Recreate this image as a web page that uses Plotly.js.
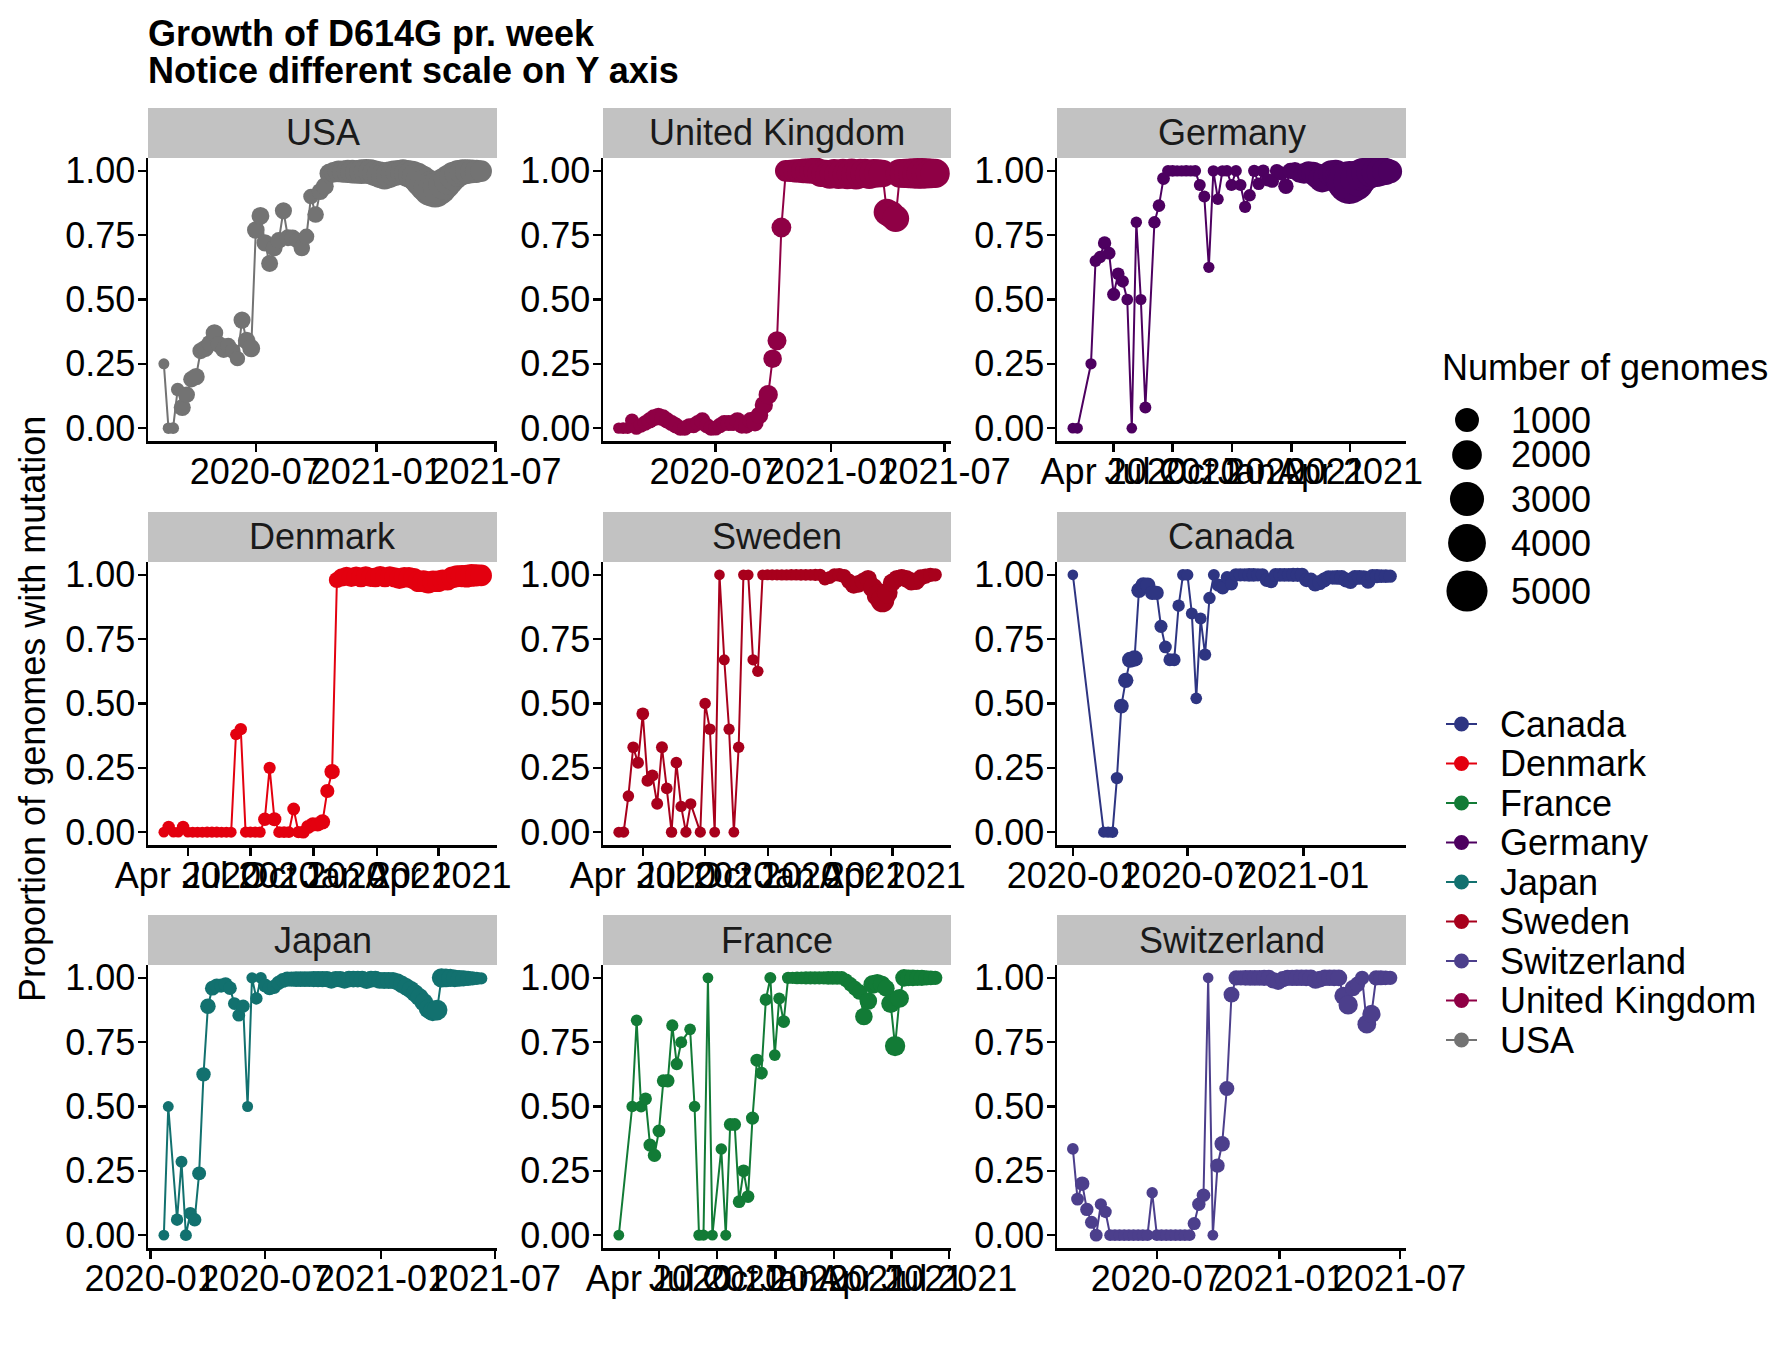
<!DOCTYPE html>
<html>
<head>
<meta charset="utf-8">
<script src="https://cdn.plot.ly/plotly-3.0.1.min.js"></script>
<style>body{margin:0;background:#fff}</style>
</head>
<body>
<div id="chart" style="width:1785px;height:1360px"></div>
<script>
// weekly share of genomes carrying D614G, one set of arrays per country
// weeks are counted from 2020-01-01
const usaWeeks = [6,7,8,9,10,11,12,13,14,15,16,17,18,19,20,21,22,23,24,25,26,27,28,29,30,31,32,33,34,35,36,37,38,39,40,41,42,43,44,45,46,47,48,49,50,51,52,53,54,55,56,57,58,59,60,61,62,63,64,65,66,67,68,69,70,71,72,73,74,75];
const usaProp = [0.25,0,0,0.15,0.08,0.13,0.19,0.20,0.30,0.31,
  0.33,0.37,0.325,0.305,0.32,0.30,0.27,0.42,0.34,0.31,
  0.77,0.825,0.72,0.64,0.70,0.73,0.845,0.74,0.74,0.73,
  0.70,0.745,0.90,0.83,0.92,0.94,0.99,0.995,0.998,0.997,
  0.998,0.997,0.996,0.997,0.998,0.996,0.99,0.985,0.98,0.985,
  0.99,0.993,0.995,0.99,0.985,0.975,0.96,0.945,0.93,0.925,
  0.935,0.95,0.965,0.98,0.99,0.995,0.997,0.998,0.998,0.999];
const usaGenomes = [5,12,20,60,260,200,220,280,220,260,
  230,300,260,230,180,160,150,260,300,320,
  300,320,260,250,230,220,260,240,220,180,
  220,170,160,220,260,320,500,600,700,800,
  900,1000,1000,1100,1100,1200,1300,1400,1500,1400,
  1300,1200,1300,1500,1700,2000,2400,2800,3100,3200,
  2900,2500,2100,1800,1500,1300,1100,1000,900,700];

const ukWeeks = [4,5,6,7,8,9,10,11,12,13,14,15,16,17,18,19,20,21,22,23,24,25,26,27,28,29,30,31,32,33,34,35,36,37,38,39,40,41,42,43,44,45,46,47,48,49,50,51,52,53,54,55,56,57,58,59,60,61,62,63,64,65,66,67,68,69,70,71,72,73,74,75,76];
const ukProp = [0,0,0,0.03,0,0.01,0.02,0.03,0.04,0.045,
  0.04,0.03,0.02,0.01,0,0,0.01,0.01,0.02,0.03,
  0.01,0,0,0.01,0.02,0.02,0.02,0.03,0.01,0.01,
  0.03,0.02,0.05,0.09,0.13,0.27,0.34,0.78,1,1,
  1,1,1,1,1,1,0.99,0.99,0.985,0.99,
  0.985,0.99,0.985,0.99,0.985,0.99,0.99,0.985,0.99,0.99,
  0.99,0.84,0.83,0.815,0.99,0.99,0.99,0.99,0.99,0.99,
  0.99,0.99,0.99];
const ukGenomes = [10,15,20,80,60,100,150,200,250,300,
  250,200,200,180,150,150,120,150,180,200,
  150,150,120,150,180,200,200,220,200,200,
  230,250,300,350,450,380,420,500,700,800,
  900,1000,1100,1200,1300,1400,1500,1600,1700,1800,
  1800,1900,1900,2000,2000,1900,1900,1800,1800,1700,
  1600,1400,1500,1500,1800,1900,2000,2100,2200,2200,
  2100,2000,1900];

const deWeeks = [4,5,8,9,10,11,12,13,14,15,16,17,18,19,20,22,23,24,25,26,27,28,29,30,31,32,33,34,35,36,37,38,39,40,41,42,43,44,45,46,47,48,49,50,51,52,53,54,55,56,57,58,59,60,61,62,63,64,65,66,67,68,69,70,71,72,73,74];
const deProp = [0,0,
  0.25,0.65,0.665,0.72,0.68,0.52,0.60,0.57,0.50,0,0.80,0.50,0.08,
  0.80,0.865,0.97,1,1,1,1,1,1,1,
  0.945,0.90,0.625,1,0.89,1,1,0.945,1,0.945,
  0.86,0.905,1,0.95,1,0.965,0.96,1,0.99,0.94,
  1,1,0.99,0.99,0.995,0.99,0.98,0.97,0.975,0.99,
  0.99,0.975,0.96,0.955,0.96,0.97,0.985,0.99,0.995,0.995,
  0.998,0.998,0.998];
const deGenomes = [3,5,
  8,20,30,60,40,50,40,30,15,2,10,8,20,
  30,35,40,20,15,10,10,12,10,15,
  20,20,8,10,15,10,12,20,15,20,
  25,30,25,35,40,60,60,80,100,150,
  200,300,400,600,700,900,1200,1600,1500,1400,
  1600,2200,3800,5600,4800,3500,2800,2500,2200,2000,
  1800,1500,1000];

const dkWeeks = [8,9,10,11,12,13,14,15,16,17,18,19,20,21,22,23,24,25,26,27,28,29,30,31,32,33,34,35,36,37,38,39,40,41,42,43,44,45,46,47,48,49,50,51,52,53,54,55,56,57,58,59,60,61,62,63,64,65,66,67,68,69,70,71,72,73,74];
const dkProp = [0,0.02,0,0,0.02,0,0,0,0,0,
  0,0,0,0,0,0.38,0.40,0,0,0,
  0,0.05,0.25,0.05,0,0,0,0.09,0,0,
  0.02,0.03,0.03,0.04,0.16,0.235,0.98,0.99,0.995,0.99,
  0.995,0.99,0.995,0.99,0.99,0.995,0.99,0.995,0.99,0.985,
  0.99,0.99,0.985,0.975,0.975,0.97,0.975,0.975,0.98,0.98,
  0.99,0.995,0.995,0.995,0.998,0.998,0.998];
const dkGenomes = [3,30,3,4,30,4,5,5,5,6,
  6,6,5,5,5,15,30,8,8,8,
  10,60,25,80,20,20,20,40,30,40,
  80,100,100,150,90,150,200,350,400,450,
  450,500,500,450,500,550,500,500,550,600,
  600,600,650,700,750,750,700,700,650,650,
  700,750,800,850,850,800,700];

const seWeeks = [8,9,10,11,12,13,14,15,16,17,18,19,20,21,22,23,25,26,27,28,29,30,31,32,33,34,35,36,37,38,39,40,41,42,43,44,45,46,47,48,49,50,51,52,53,54,55,56,57,58,59,60,61,62,63,64,65,66,67,68,69,70,71,72,73,74];
const seProp = [0,0,0.14,0.33,0.27,0.46,0.20,0.22,0.11,0.33,0.17,0,0.27,0.10,0,0.11,
  0,0.50,0.40,0,1,0.67,0.40,0,0.33,1,
  1,0.67,0.625,1,1,1,1,1,1,1,
  1,1,1,1,1,1,0.985,0.99,1,1,
  0.995,0.975,0.96,0.965,0.975,0.985,0.95,0.92,0.90,0.93,
  0.97,0.985,0.99,0.985,0.975,0.975,0.99,0.995,1,1];
const seGenomes = [5,8,12,15,20,40,25,25,20,20,15,10,15,10,8,10,
  8,12,15,3,2,5,8,3,10,3,
  3,8,10,4,5,6,8,10,10,12,
  12,15,15,20,25,30,60,50,60,80,
  100,150,250,300,250,300,500,700,950,600,
  350,300,250,300,350,300,200,150,100,60];

const caWeeks = [0,7,8,9,10,11,12,13,14,15,16,17,18,19,20,21,22,23,24,25,26,27,28,29,30,31,32,33,34,35,36,37,38,39,40,41,42,43,44,45,46,47,48,49,50,51,52,53,54,55,56,57,58,59,60,61,62,63,64,65,66,67,68,69,70,71,72];
const caProp = [1,
  0,0,0,0.21,0.49,0.59,0.67,0.675,0.94,0.96,
  0.96,0.93,0.93,0.80,0.72,0.67,0.67,0.88,1,1,
  0.85,0.52,0.83,0.69,0.91,1,0.96,0.95,0.99,0.965,
  1,1,1,1,1,1,1,0.98,0.975,1,
  1,1,1,1,1,1,0.98,0.98,0.965,0.97,
  0.98,0.99,0.99,0.99,0.99,0.98,0.975,0.99,0.99,0.99,
  0.975,0.995,0.995,0.995,0.995,0.995];
const caGenomes = [2,
  8,10,12,30,120,150,200,220,150,180,
  150,100,100,50,40,40,40,30,20,20,
  20,15,20,30,30,20,50,60,40,50,
  60,60,60,70,70,60,60,80,80,70,
  70,80,80,90,90,100,100,120,150,130,
  120,110,110,120,130,130,140,130,120,110,
  130,100,90,80,70,60];

const jpWeeks = [3,4,6,7,8,9,10,11,12,13,14,15,16,17,18,19,20,21,22,23,24,25,26,27,28,29,30,31,32,33,34,35,36,37,38,39,40,41,42,43,44,45,46,47,48,49,50,51,52,53,54,55,56,57,58,59,60,61,62,63,64,65,66,67,68,69,70,71,72,73,74,75];
const jpProp = [0,0.50,
  0.06,0.285,0,0.085,0.06,0.24,0.625,0.89,0.96,0.97,
  0.97,0.975,0.96,0.90,0.855,0.89,0.50,1,0.92,1,
  0.97,0.96,0.965,0.98,0.99,0.995,0.995,0.995,0.995,0.995,
  0.995,0.995,0.995,0.995,0.995,0.99,0.995,0.995,0.99,0.995,
  0.995,0.995,0.995,0.99,0.995,0.995,0.99,0.99,0.99,0.99,
  0.985,0.975,0.965,0.955,0.94,0.925,0.905,0.88,0.87,0.875,
  1,1,1,0.998,0.998,0.998,0.998,0.998,0.998,0.998];
const jpGenomes = [3,4,
  30,20,20,40,60,80,100,160,120,100,
  90,80,70,40,40,50,5,8,30,20,
  80,100,90,100,120,150,150,160,170,180,
  180,190,200,200,200,210,210,220,220,230,
  230,240,240,250,250,240,240,250,250,260,
  260,280,300,300,320,350,380,420,500,600,
  450,400,350,300,250,200,150,100,60,30];

const frWeeks = [4,7,8,9,10,11,12,13,14,15,16,17,18,20,21,22,23,24,25,27,28,29,30,31,32,33,34,35,36,37,38,39,40,41,42,43,44,45,46,47,48,49,50,51,52,53,54,55,56,57,58,59,60,61,62,63,64,65,66,67,68,69,70,71,72,73,74,75];
const frProp = [0,
  0.50,0.835,0.50,0.53,0.35,0.31,0.405,0.60,0.60,0.815,0.665,0.75,
  0.80,0.50,0,0,1,0,
  0.335,0,0.43,0.43,0.13,0.25,0.15,0.455,0.68,0.63,
  0.915,1,0.70,0.92,0.83,1,1,1,1,1,
  1,1,1,1,1,1,1,1,0.99,0.975,
  0.96,0.945,0.85,0.91,0.975,0.98,0.975,0.96,0.90,0.735,
  0.92,1,1,1,1,1,1,1,1];
const frGenomes = [3,
  12,15,20,40,50,60,40,50,60,25,30,20,
  15,10,10,8,3,4,
  12,5,40,40,40,40,40,50,50,40,
  30,20,15,20,40,30,30,40,40,50,
  50,50,60,60,70,70,80,80,80,100,
  120,150,300,300,400,350,300,250,400,550,
  400,300,250,250,200,200,150,120,100];

const chWeeks = [8,9,10,11,12,13,14,15,16,17,18,19,20,21,22,23,24,25,26,27,28,29,30,31,32,33,34,35,36,37,38,39,40,41,42,43,44,45,46,47,48,49,50,51,52,53,54,55,56,57,58,59,60,61,62,63,64,65,66,67,68,69,70,71,72,73,74,75,76];
const chProp = [0.335,0.14,0.20,0.10,0.05,0,0.12,0.09,0,0,
  0,0,0,0,0,0,0,0.165,0,0,
  0,0,0,0,0,0,0.045,0.12,0.155,1,
  0,0.27,0.355,0.57,0.935,1,1,1,1,1,
  1,1,1,0.99,0.985,0.995,1,1,1,1,
  1,1,0.99,0.995,1,1,1,1,0.93,0.895,
  0.96,0.975,1,0.82,0.86,1,1,1,1];
const chGenomes = [15,40,100,60,50,40,25,30,20,20,
  20,20,20,20,20,20,20,10,20,20,
  20,20,20,20,20,20,50,60,70,2,
  3,100,150,130,180,150,150,160,170,180,
  180,190,200,200,210,200,200,210,220,220,
  230,230,240,230,220,220,230,240,350,450,
  200,150,100,400,350,150,130,110,100];

// facet order and legend order
const panels = ['USA','United Kingdom','Germany','Denmark','Sweden','Canada','Japan','France','Switzerland'];
const legendOrder = ['Canada','Denmark','France','Germany','Japan','Sweden','Switzerland','United Kingdom','USA'];
const sizeBreaks = [1000,2000,3000,4000,5000];

const series = {
  'USA': [usaWeeks, usaProp, usaGenomes],
  'United Kingdom': [ukWeeks, ukProp, ukGenomes],
  'Germany': [deWeeks, deProp, deGenomes],
  'Denmark': [dkWeeks, dkProp, dkGenomes],
  'Sweden': [seWeeks, seProp, seGenomes],
  'Canada': [caWeeks, caProp, caGenomes],
  'Japan': [jpWeeks, jpProp, jpGenomes],
  'France': [frWeeks, frProp, frGenomes],
  'Switzerland': [chWeeks, chProp, chGenomes]
};

const colors = {
  'Canada': '#2E3582', 'Denmark': '#E3000F', 'France': '#127B36',
  'Germany': '#4D0060', 'Japan': '#12716F', 'Sweden': '#A8001C',
  'Switzerland': '#4C3F8C', 'United Kingdom': '#8F0045', 'USA': '#737373'
};

// date ticks: half-year labels or quarter labels depending on the facet
const tickStyle = {
  'USA': 'half', 'United Kingdom': 'half', 'Germany': 'quarter',
  'Denmark': 'quarter', 'Sweden': 'quarter', 'Canada': 'half',
  'Japan': 'half', 'France': 'quarter', 'Switzerland': 'half'
};
const halfTicks = ['2020-01-01','2020-07-01','2021-01-01','2021-07-01'];
const quarterTicks = ['2020-01-01','2020-04-01','2020-07-01','2020-10-01','2021-01-01','2021-04-01','2021-07-01'];

// page geometry in pixels
const W = 1785, H = 1360;
const colLeft = [148, 603, 1057], colRight = [497, 951, 1406];
const rowTop = [158, 562, 965], rowBottom = [441, 845, 1248];
const stripH = 50;
const font = 'Liberation Sans, Arial, sans-serif';
const txt = 36;

const DAY = 86400000;
const start = Date.UTC(2020, 0, 1);
function weekMs(w) { return start + w * 7 * DAY; }
function fmt(ms) { const s = new Date(ms).toISOString(); return s.slice(0,10) + ' ' + s.slice(11,16); }
// point diameter grows with the square root of the genome count
function dotSize(n) { return 10 + 0.44 * Math.sqrt(n); }

const traces = [];
const layout = {
  width: W, height: H,
  margin: {l:0, r:0, t:0, b:0},
  paper_bgcolor: 'white', plot_bgcolor: 'white',
  showlegend: false,
  font: {family: font, size: txt, color: 'black'},
  shapes: [], annotations: []
};

panels.forEach((name, i) => {
  const row = Math.floor(i / 3), col = i % 3;
  const id = i === 0 ? '' : String(i + 1);
  const [weeks, prop, genomes] = series[name];
  const xs = weeks.map(w => fmt(weekMs(w)));
  traces.push({
    type: 'scatter', mode: 'lines+markers',
    x: xs, y: prop,
    xaxis: 'x' + id, yaxis: 'y' + id,
    line: {color: colors[name], width: 2},
    marker: {color: colors[name], size: genomes.map(dotSize), line: {width: 0}, opacity: 1},
    hoverinfo: 'skip'
  });

  const t0 = weekMs(weeks[0]), t1 = weekMs(weeks[weeks.length - 1]);
  const pad = 0.05 * (t1 - t0);
  const lo = t0 - pad, hi = t1 + pad;
  const cand = tickStyle[name] === 'half' ? halfTicks : quarterTicks;
  const tv = cand.filter(d => { const t = Date.parse(d + 'T00:00:00Z'); return t >= lo && t <= hi; });

  const axisCommon = {
    showline: true, linecolor: 'black', linewidth: 2.5,
    ticks: 'outside', ticklen: 8, tickwidth: 2.5, tickcolor: 'black',
    showgrid: false, zeroline: false, fixedrange: true, automargin: false,
    tickfont: {family: font, size: txt, color: 'black'}
  };
  layout['xaxis' + id] = Object.assign({}, axisCommon, {
    type: 'date', anchor: 'y' + id,
    domain: [colLeft[col] / W, colRight[col] / W],
    range: [fmt(lo), fmt(hi)],
    tickmode: 'array', tickvals: tv,
    tickformat: tickStyle[name] === 'half' ? '%Y-%m' : '%b %Y',
    tickangle: 0, ticklabelstandoff: -11
  });
  layout['yaxis' + id] = Object.assign({}, axisCommon, {
    anchor: 'x' + id,
    domain: [1 - rowBottom[row] / H, 1 - rowTop[row] / H],
    range: [-0.05, 1.05],
    tickmode: 'array', tickvals: [0, 0.25, 0.5, 0.75, 1],
    tickformat: '.2f', ticklabelstandoff: -5
  });

  // facet strip
  layout.shapes.push({
    type: 'rect', xref: 'paper', yref: 'paper', layer: 'below',
    x0: colLeft[col] / W, x1: colRight[col] / W,
    y0: 1 - rowTop[row] / H, y1: 1 - (rowTop[row] - stripH) / H,
    fillcolor: '#C2C2C2', line: {width: 0}
  });
  layout.annotations.push({
    xref: 'paper', yref: 'paper', showarrow: false,
    x: (colLeft[col] + colRight[col]) / 2 / W,
    y: 1 - (rowTop[row] - stripH / 2) / H,
    xanchor: 'center', yanchor: 'middle',
    text: name, font: {family: font, size: txt, color: '#1A1A1A'}
  });
});

// titles
layout.annotations.push(
  {xref:'paper', yref:'paper', showarrow:false, x:146/W, y:1-33/H, xanchor:'left', yanchor:'middle',
   text:'<b>Growth of D614G pr. week</b>', font:{family:font, size:36, color:'black'}},
  {xref:'paper', yref:'paper', showarrow:false, x:146/W, y:1-70/H, xanchor:'left', yanchor:'middle',
   text:'<b>Notice different scale on Y axis</b>', font:{family:font, size:36, color:'black'}},
  {xref:'paper', yref:'paper', showarrow:false, x:32/W, y:1-709/H, xanchor:'center', yanchor:'middle',
   textangle:-90, text:'Proportion of genomes with mutation', font:{family:font, size:txt, color:'black'}}
);

// size legend
layout.annotations.push({xref:'paper', yref:'paper', showarrow:false, x:1440/W, y:1-368/H,
  xanchor:'left', yanchor:'middle', text:'Number of genomes', font:{family:font, size:txt, color:'black'}});
const sizeKeyY = [420, 455, 499, 543, 591];
sizeBreaks.forEach((b, i) => {
  const r = dotSize(b) / 2;
  layout.shapes.push({type:'circle', xref:'paper', yref:'paper',
    xsizemode:'pixel', ysizemode:'pixel', xanchor:1467/W, yanchor:1-sizeKeyY[i]/H,
    x0:-r, x1:r, y0:-r, y1:r, fillcolor:'black', line:{width:0}});
  layout.annotations.push({xref:'paper', yref:'paper', showarrow:false, x:1509/W, y:1-sizeKeyY[i]/H,
    xanchor:'left', yanchor:'middle', text:String(b), font:{family:font, size:txt, color:'black'}});
});

// colour legend
legendOrder.forEach((name, i) => {
  const y = 1 - (724 + 39.5 * i) / H;
  layout.shapes.push({type:'line', xref:'paper', yref:'paper', x0:1446/W, x1:1477/W, y0:y, y1:y,
    line:{color:colors[name], width:2}});
  layout.shapes.push({type:'circle', xref:'paper', yref:'paper',
    xsizemode:'pixel', ysizemode:'pixel', xanchor:1461.5/W, yanchor:y,
    x0:-7.5, x1:7.5, y0:-7.5, y1:7.5, fillcolor:colors[name], line:{width:0}});
  layout.annotations.push({xref:'paper', yref:'paper', showarrow:false, x:1498/W, y:y,
    xanchor:'left', yanchor:'middle', text:name, font:{family:font, size:txt, color:'black'}});
});

Plotly.newPlot('chart', traces, layout, {staticPlot: true, displayModeBar: false});
</script>
</body>
</html>
